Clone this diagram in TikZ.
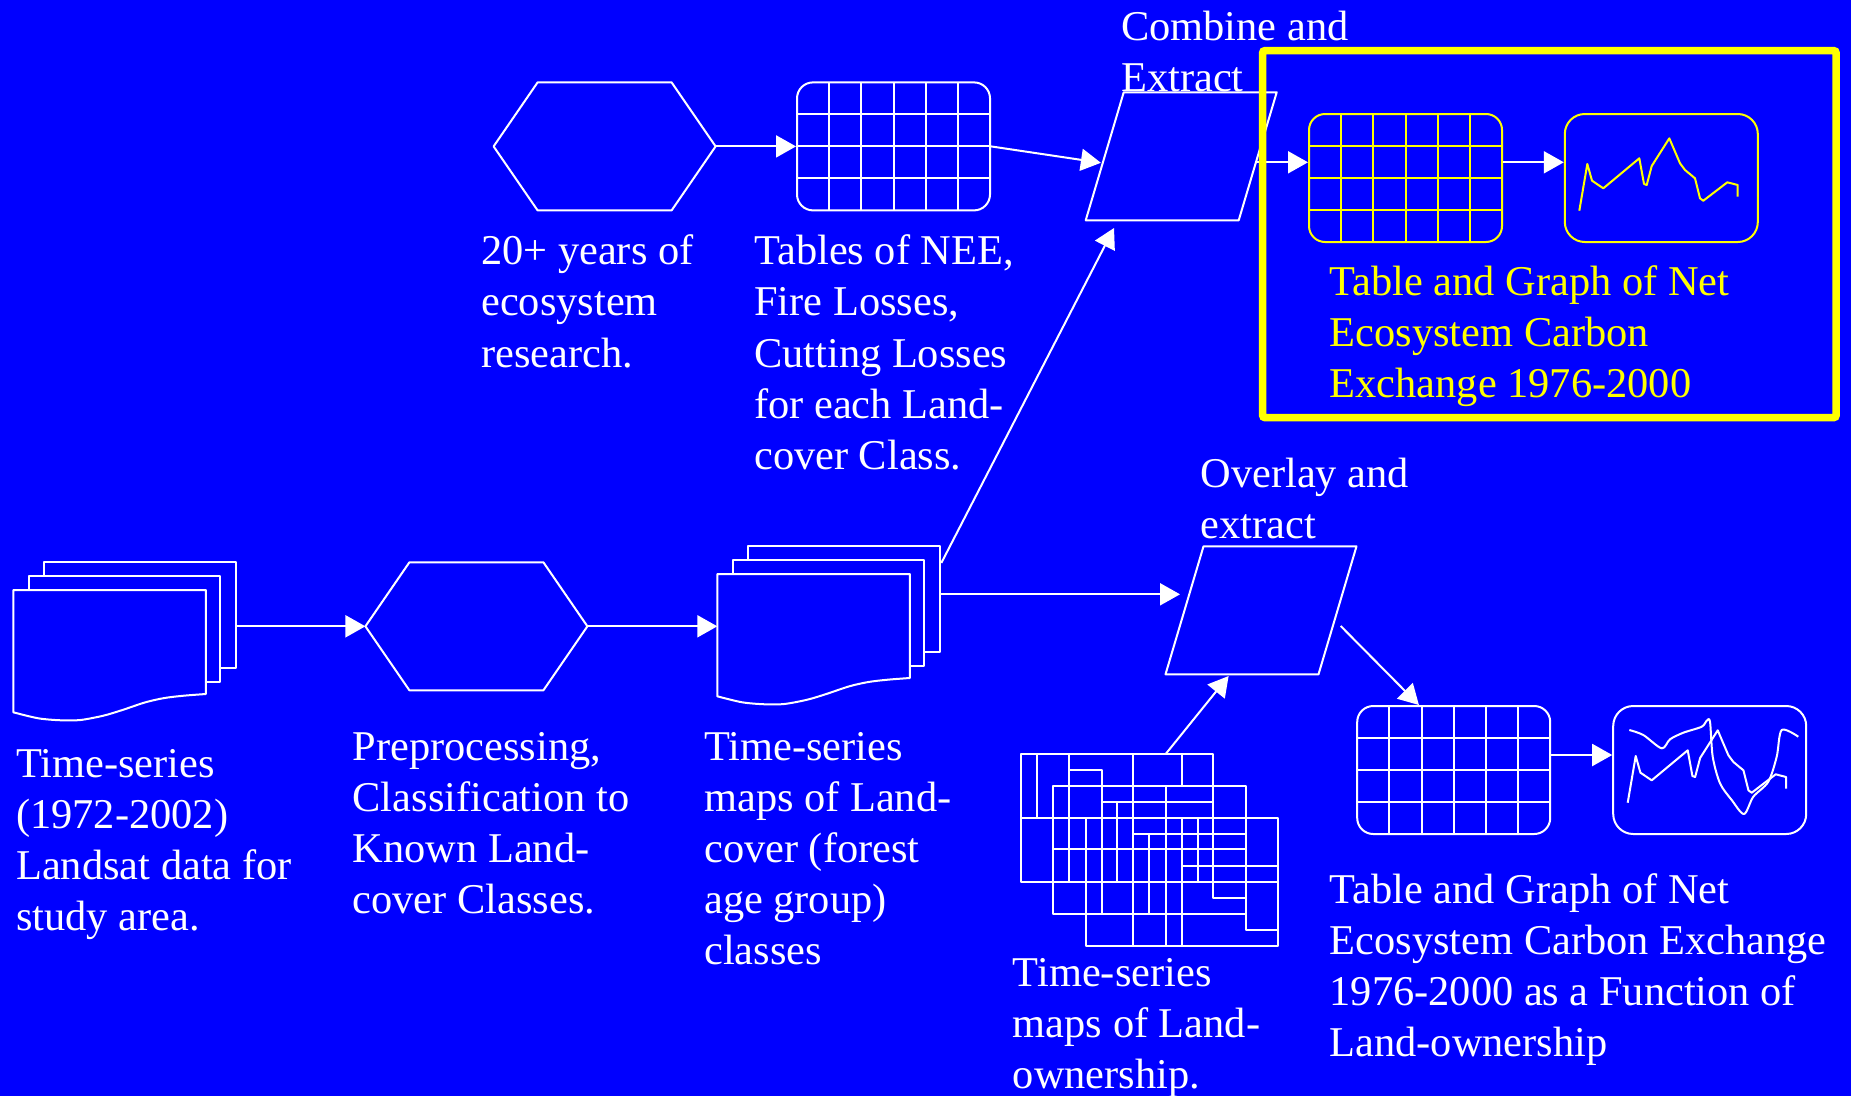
\documentclass[tikz,border=0pt]{standalone}
\usepackage{fontspec}
\setmainfont{Liberation Serif}
\usetikzlibrary{arrows.meta,calc}
\definecolor{bg}{RGB}{0,0,255}
\definecolor{hl}{RGB}{255,255,0}
\newcommand\lblfont{\fontsize{42.4pt}{51.1pt}\selectfont}
\tikzset{
  ln/.style={draw=white, line width=2pt, line join=round},
  conn/.style={draw=white, line width=2pt, -{Triangle[length=20pt,width=22pt]}},
  lbl/.style={anchor=north west, inner sep=0pt, align=left, text=white, font=\lblfont},
  tablebox/.style={draw=#1, line width=2pt, rounded corners=16pt, minimum width=193pt,
    minimum height=128pt, inner sep=0pt, fill=bg,
    path picture={
      \foreach \i in {1,...,5}{\draw[#1, line width=2pt]
        ($(path picture bounding box.north west)!\i/6!(path picture bounding box.north east)$) --
        ($(path picture bounding box.south west)!\i/6!(path picture bounding box.south east)$);}
      \foreach \j in {1,2,3}{\draw[#1, line width=2pt]
        ($(path picture bounding box.north west)!\j/4!(path picture bounding box.south west)$) --
        ($(path picture bounding box.north east)!\j/4!(path picture bounding box.south east)$);}
    }},
  graphbox/.style={draw=#1, line width=2pt, rounded corners=20pt, minimum width=193pt,
    minimum height=128pt, inner sep=0pt},
  curveA/.style={line width=2pt, line join=round},
  docstack/.pic={
    \draw[ln, fill=bg] (30.5,-28) rectangle (223,78);
    \draw[ln, fill=bg] (16,-14) rectangle (207,92);
    \draw[ln, fill=bg] (0,122.3) -- (0,0) -- (192.5,0) -- (192.5,104) -- plot[smooth] coordinates
      {(192.5,104) (170.3,105.7) (151.1,108) (132,112.3) (109,120) (89.9,125.7) (67,130)
       (47.8,130.3) (24.9,128.3) (0,122.3)} -- cycle;
    \coordinate (-nw) at (0,0);
    \coordinate (-bne) at (223,-28);
  },
  hexa/.pic={
    \draw[ln, fill=bg] (-111,0) -- (-67,-64) -- (67,-64) -- (111,0) -- (67,64) -- (-67,64) -- cycle;
    \coordinate (-west) at (-111,0);
    \coordinate (-east) at (111,0);
  },
  para/.pic={
    \draw[ln, fill=bg] (-57.5,-64) -- (95.5,-64) -- (57.5,64) -- (-95.5,64) -- cycle;
    \coordinate (-west) at (-76.5,0);
    \coordinate (-east) at (76.5,0);
    \coordinate (-sw) at (-95.5,64);
    \coordinate (-south) at (-19,64);
  },
  landmap/.pic={
    \begin{scope}[x=0.33333pt,y=-0.33333pt]
      \draw[ln] (63,72) rectangle (640,457);
      \draw[ln] (160,168) rectangle (737,552);
      \draw[ln] (257,263) rectangle (833,648);
      \draw[ln] (112,72) -- (112,263);
      \draw[ln] (63,263) -- (257,263);
      \draw[ln] (207,72) -- (207,457);
      \draw[ln] (207,120) -- (305,120) -- (305,552);
      \draw[ln] (400,72) -- (400,648);
      \draw[ln] (545,72) -- (545,168);
      \draw[ln] (545,263) -- (545,648);
      \draw[ln] (305,215) -- (640,215);
      \draw[ln] (350,215) -- (350,457);
      \draw[ln] (497,168) -- (497,648);
      \draw[ln] (400,312) -- (737,312);
      \draw[ln] (448,312) -- (448,552);
      \draw[ln] (593,263) -- (593,457);
      \draw[ln] (160,358) -- (737,358);
      \draw[ln] (545,408) -- (833,408);
      \draw[ln] (63,457) -- (833,457);
      \draw[ln] (640,457) -- (640,503) -- (737,503);
      \draw[ln] (737,552) -- (737,600) -- (833,600);
      \coordinate (-top) at (497,72);
    \end{scope}
  },
}
\begin{document}
\begin{tikzpicture}[x=1pt,y=-1pt]
\useasboundingbox (0,0) rectangle (1851,1095);
\fill[bg] (-6,-6) rectangle (1857,1101);

% shapes
\pic (doc1) at (13.4,590) {docstack};
\pic (doc2) at (717.3,574) {docstack};
\pic (hexA) at (476.4,626.3) {hexa};
\pic (hexT) at (604.6,146.4) {hexa};
\pic (paraC) at (1181.2,156.3) {para};
\pic (paraO) at (1261,610.3) {para};
\pic (land) at (1000,730) {landmap};

\node[tablebox=white] (tabA) at (893.5,146.4) {};
\node[tablebox=hl] (tabY) at (1405.5,178) {};
\node[tablebox=white] (tabB) at (1453.7,770) {};
\node[graphbox=hl] (graphY) at (1661.3,178) {};
\node[graphbox=white] (graphB) at (1709.7,770) {};

% graph curves
\begin{scope}[shift={(graphY.center)}]
  \draw[hl, curveA] plot coordinates {(-82,32.7) (-74,-14) (-69.3,2.7) (-58,10.3) (-22,-19.7)
    (-17.3,6) (-14.6,7) (-9.6,-12) (8,-39.7) (18.7,-14.7) (23.7,-8) (33.7,0.3) (38.7,20.3)
    (42,22.7) (66,4.3) (76.4,7) (76.4,18.7)};
\end{scope}
\begin{scope}[shift={(graphB.center)}]
  \draw[white, curveA] plot coordinates {(-82,32.7) (-74,-14) (-69.3,2.7) (-58,10.3) (-22,-19.7)
    (-17.3,6) (-14.6,7) (-9.6,-12) (8,-39.7) (18.7,-14.7) (23.7,-8) (33.7,0.3) (38.7,20.3)
    (42,22.7) (66,4.3) (76.4,7) (76.4,18.7)};
  \draw[white, curveA] plot[smooth, tension=0.5] coordinates {(-80.4,-40) (-66.4,-35) (-48,-21.7)
    (-39.7,-30.7) (-26.4,-37.3) (-8,-43.3) (-3,-49.3) (0.3,-48.3) (3,-13.3) (10.3,13.3) (22,30)
    (34.3,44) (43.6,26.7) (58.6,11.7) (67,-13.3) (72,-40) (88.6,-33.3)};
\end{scope}

% connectors
\draw[conn] (doc1-bne |- hexA-west) -- (hexA-west);
\draw[conn] (hexA-east) -- (hexA-east -| doc2-nw);
\draw[conn] ([shift={(0,48.3)}]doc2-bne) -- ([shift={(-4.5,-16)}]paraO-west);
\draw[conn] ([shift={(1,17)}]doc2-bne) -- ([shift={(28.3,7.7)}]paraC-sw);
\draw[conn] (hexT-east) -- (tabA.west);
\draw[conn] (tabA.east) -- ([shift={(-3.8,6.5)}]paraC-west);
\draw[conn] ([shift={(-2,6)}]paraC-east) -- ([shift={(0,-15.7)}]tabY.west);
\draw[conn] ([shift={(0,-15.7)}]tabY.east) -- ([shift={(0,-15.7)}]graphY.west);
\draw[conn] ([shift={(3.2,15.7)}]paraO-east) -- ([shift={(62.7,0)}]tabB.north west);
\draw[conn] ([shift={(0,-15)}]tabB.east) -- ([shift={(0,-15)}]graphB.west);
\draw[conn] (land-top) -- ([shift={(-13.4,1.7)}]paraO-south);

% highlight box
\node[draw=hl, line width=7.5pt, rounded corners=2pt, minimum width=573.3pt,
  minimum height=366.8pt, inner sep=0pt] (hlbox) at (1549.35,234.1) {};

% labels
\node[lbl] (t1) at (16,741.2) {\strut Time-series\\(1972-2002)\\Landsat data for\\study area.};
\node[lbl] (t2) at (352.5,724.5) {\strut Preprocessing,\\Classification to\\Known Land-\\cover Classes.};
\node[lbl] (t3) at (704,724.5) {\strut Time-series\\maps of Land-\\cover (forest\\age group)\\classes};
\node[lbl] (t4) at (481,228.9) {\strut 20+ years of\\ecosystem\\research.};
\node[lbl] (t5) at (754,228.9) {\strut Tables of NEE,\\Fire Losses,\\Cutting Losses\\for each Land-\\cover Class.};
\node[lbl] (t6) at (1121,4.5) {\strut Combine and\\Extract};
\node[lbl, text=hl] (t7) at (1329.5,259.5) {\strut Table and Graph of Net\\Ecosystem Carbon\\Exchange 1976-2000};
\node[lbl] (t8) at (1200.3,451.2) {\strut Overlay and\\extract};
\node[lbl] (t9) at (1012.7,950.2) {\strut Time-series\\maps of Land-\\ownership.};
\node[lbl] (t10) at (1329.5,867.2) {\strut Table and Graph of Net\\Ecosystem Carbon Exchange\\1976-2000 as a Function of\\Land-ownership};
\end{tikzpicture}
\end{document}
